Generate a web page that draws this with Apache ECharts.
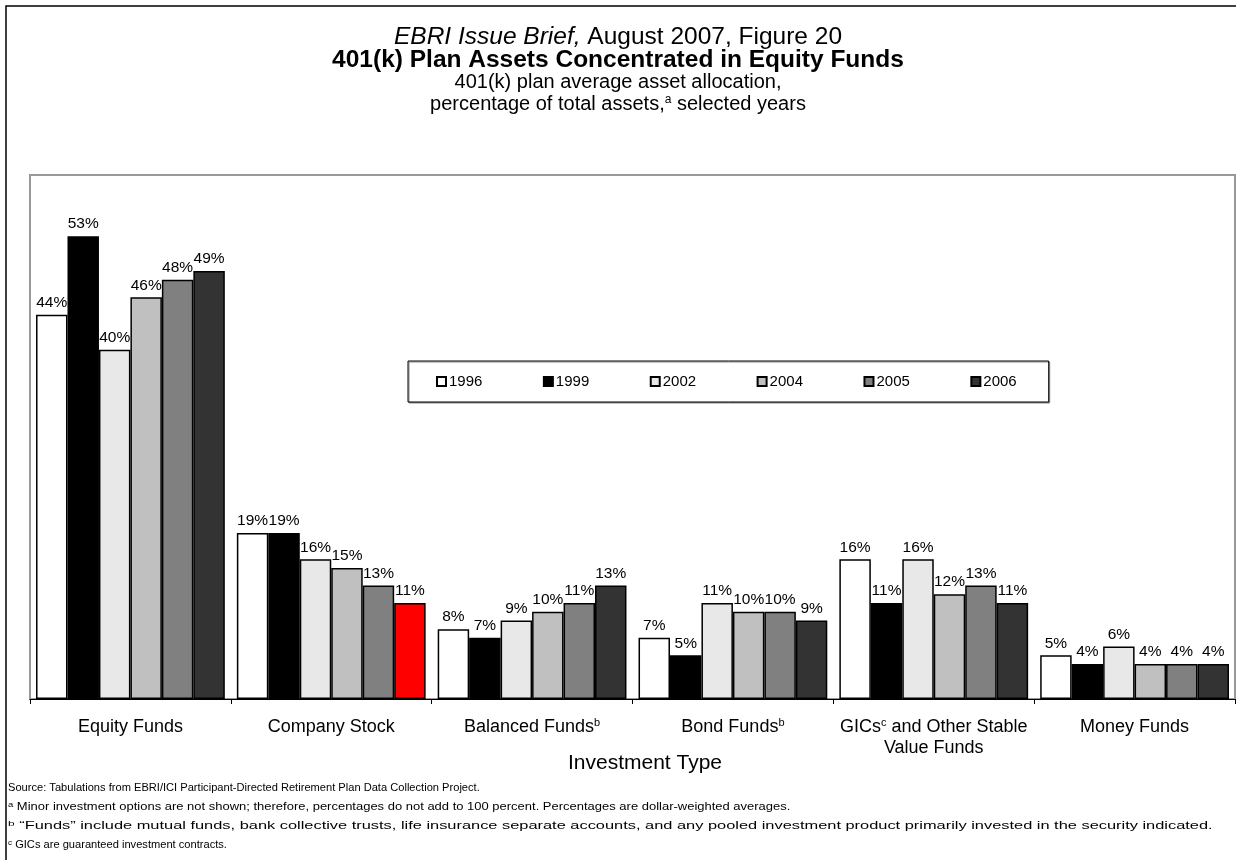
<!DOCTYPE html>
<html>
<head>
<meta charset="utf-8">
<script src="https://cdn.jsdelivr.net/npm/echarts@6/dist/echarts.min.js"></script>
<style>
    html, body {margin: 0; padding: 0; background: #fff;}
    #main {width: 1236px; height: 860px;}
</style>
</head>
<body>
<div id="main"></div>
<script>
var categories = ['Equity Funds', 'Company Stock', 'Balanced Funds', 'Bond Funds', 'GICs and Other Stable Value Funds', 'Money Funds'];
var axisLabels = ['Equity Funds', 'Company Stock', 'Balanced Funds{s|b}', 'Bond Funds{s|b}', 'GICs{s|c} and Other Stable\nValue Funds', 'Money Funds'];
var years = ['1996', '1999', '2002', '2004', '2005', '2006'];
var v1996 = [44, 19, 8, 7, 16, 5];
var v1999 = [53, 19, 7, 5, 11, 4];
var v2002 = [40, 16, 9, 11, 16, 6];
var v2004 = [46, 15, 10, 10, 12, 4];
var v2005 = [48, 13, 11, 10, 13, 4];
var v2006 = [49, 11, 13, 9, 11, 4];
var colors = ['#ffffff', '#000000', '#e8e8e8', '#c0c0c0', '#808080', '#333333'];

var font = 'Liberation Sans, Arial, sans-serif';
var my_chart = echarts.init(document.getElementById('main'));

function makeSeries(name, values, color) {
    var data = values.map(function (v, i) {
        // company stock 2006 is highlighted red in the original
        if (name === '2006' && i === 1) {
            return {value: v, itemStyle: {color: '#ff0000'}};
        }
        return v;
    });
    return {
        name: name,
        type: 'bar',
        data: data,
        barGap: 0,
        barCategoryGap: '6%',
        itemStyle: {color: color, borderColor: '#000', borderWidth: 1.5},
        label: {
            show: true,
            position: 'top',
            distance: 4,
            formatter: '{c}%',
            color: '#000',
            fontSize: 15.5,
            fontFamily: font
        }
    };
}

// footnote lines, stretched a bit like the source picture
function note(top, text, sx) {
    return {
        type: 'text',
        x: 8, y: top,
        scaleX: sx || 1,
        silent: true,
        style: {
            text: text,
            fontSize: 11,
            fontFamily: font,
            fill: '#000',
            verticalAlign: 'top',
            rich: {sup: {fontSize: 8, verticalAlign: 'top', fill: '#000', fontFamily: font}}
        }
    };
}

var series = [
    makeSeries(years[0], v1996, colors[0]),
    makeSeries(years[1], v1999, colors[1]),
    makeSeries(years[2], v2002, colors[2]),
    makeSeries(years[3], v2004, colors[3]),
    makeSeries(years[4], v2005, colors[4]),
    makeSeries(years[5], v2006, colors[5])
];

var option = {
    animation: false,
    backgroundColor: '#fff',
    title: [
        {
            left: 'center', top: 20,
            text: '{i|EBRI Issue Brief,} August 2007, Figure 20',
            textStyle: {
                fontSize: 24.5, fontWeight: 'normal', color: '#000', fontFamily: font,
                rich: {i: {fontSize: 24.5, fontStyle: 'italic', color: '#000', fontFamily: font}}
            }
        },
        {
            left: 'center', top: 43,
            text: '401(k) Plan Assets Concentrated in Equity Funds',
            textStyle: {fontSize: 24.5, fontWeight: 'bold', color: '#000', fontFamily: font}
        },
        {
            left: 'center', top: 67,
            text: '401(k) plan average asset allocation,',
            textStyle: {fontSize: 20, fontWeight: 'normal', color: '#000', fontFamily: font}
        },
        {
            left: 'center', top: 89,
            text: 'percentage of total assets,{sup|a} selected years',
            textStyle: {
                fontSize: 20, fontWeight: 'normal', color: '#000', fontFamily: font,
                rich: {sup: {fontSize: 12, verticalAlign: 'top', color: '#000', fontFamily: font}}
            }
        }
    ],
    legend: {
        data: years,
        left: 408, top: 361,
        padding: [13, 32, 13, 28],
        itemGap: 60.5,
        itemWidth: 9,
        itemHeight: 9,
        icon: 'rect',
        backgroundColor: '#fff',
        borderColor: '#000',
        borderWidth: 1,
        shadowColor: '#888',
        shadowOffsetX: 1,
        shadowOffsetY: 1,
        shadowBlur: 0,
        textStyle: {fontSize: 15, color: '#000', fontFamily: font, padding: [0, 0, 0, -2]}
    },
    grid: {
        left: 30, right: 1, top: 175, bottom: 161,
        show: true,
        borderColor: '#999',
        borderWidth: 2
    },
    xAxis: {
        type: 'category',
        data: categories,
        axisLine: {lineStyle: {color: '#000', width: 1}},
        axisTick: {show: true, length: 5, interval: 0, lineStyle: {color: '#000'}},
        axisLabel: {
            interval: 0,
            margin: 18,
            color: '#000',
            fontSize: 18,
            fontFamily: font,
            lineHeight: 21,
            formatter: function (value, index) {
                return axisLabels[index];
            },
            rich: {s: {fontSize: 11, verticalAlign: 'top', color: '#000', fontFamily: font}}
        }
    },
    yAxis: {
        type: 'value',
        min: 0,
        max: 60,
        show: false,
        splitLine: {show: false}
    },
    graphic: [
        {
            type: 'rect',
            shape: {x: 6, y: 6, width: 1240, height: 860},
            style: {fill: null, stroke: '#000', lineWidth: 1.5},
            silent: true
        },
        {
            type: 'text',
            x: 645, y: 763,
            silent: true,
            style: {
                text: 'Investment Type',
                fontSize: 21, fontFamily: font, fill: '#000',
                align: 'center', verticalAlign: 'middle'
            }
        },
        note(782, 'Source: Tabulations from EBRI/ICI Participant-Directed Retirement Plan Data Collection Project.', 1.01),
        note(801, '{sup|a} Minor investment options are not shown; therefore, percentages do not add to 100 percent. Percentages are dollar-weighted averages.', 1.18),
        note(820, '{sup|b} \u201cFunds\u201d include mutual funds, bank collective trusts, life insurance separate accounts, and any pooled investment product primarily invested in the security indicated.', 1.49),
        note(839, '{sup|c} GICs are guaranteed investment contracts.', 1.01)
    ],
    series: series
};

my_chart.setOption(option);
</script>
</body>
</html>
